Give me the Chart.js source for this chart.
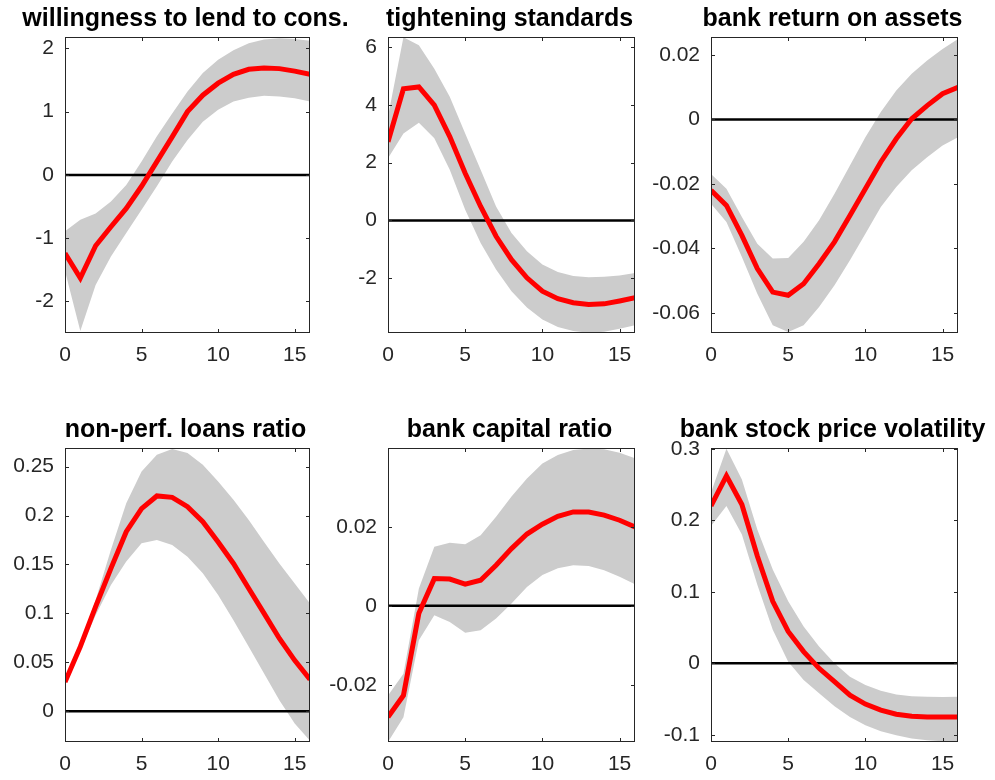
<!DOCTYPE html>
<html>
<head>
<meta charset="utf-8">
<script src="https://cdn.jsdelivr.net/npm/chart.js@4.4.1/dist/chart.umd.min.js"></script>
<style>
  html, body { margin: 0; padding: 0; background: #fff; }
  #wrap { position: relative; width: 995px; height: 780px; overflow: hidden; }
  #wrap canvas { position: absolute; left: 0; top: 0; }
</style>
</head>
<body>
<div id="wrap"></div>
<script>
// Horizon (quarters after the shock)
const horizon = [0, 1, 2, 3, 4, 5, 6, 7, 8, 9, 10, 11, 12, 13, 14, 15, 16];
const xTicks = [0, 5, 10, 15];

// Willingness to lend to consumers
const lendMedian = [-1.24, -1.63, -1.12, -0.82, -0.53, -0.18, 0.21, 0.60, 1.00, 1.26, 1.45, 1.59, 1.67, 1.69, 1.68, 1.64, 1.59];
const lendUpper  = [-0.89, -0.71, -0.61, -0.42, -0.16, 0.21, 0.61, 0.97, 1.32, 1.61, 1.82, 1.97, 2.08, 2.14, 2.16, 2.15, 2.12];
const lendLower  = [-1.52, -2.47, -1.74, -1.29, -0.92, -0.55, -0.18, 0.21, 0.55, 0.84, 1.03, 1.16, 1.22, 1.25, 1.24, 1.21, 1.16];
const lendTicks  = [-2, -1, 0, 1, 2];

// Tightening standards
const tightMedian = [2.72, 4.56, 4.62, 3.99, 2.90, 1.63, 0.48, -0.55, -1.36, -1.99, -2.45, -2.71, -2.85, -2.91, -2.89, -2.79, -2.68];
const tightUpper  = [3.60, 6.34, 6.06, 5.25, 4.28, 3.01, 1.75, 0.48, -0.44, -1.07, -1.53, -1.79, -1.93, -1.97, -1.95, -1.91, -1.82];
const tightLower  = [2.15, 3.01, 3.38, 2.84, 1.75, 0.37, -0.78, -1.70, -2.45, -3.02, -3.43, -3.69, -3.83, -3.89, -3.86, -3.75, -3.63];
const tightTicks  = [-2, 0, 2, 4, 6];

// Bank return on assets
const roaMedian = [-0.0220, -0.0267, -0.0360, -0.0463, -0.0536, -0.0546, -0.0510, -0.0448, -0.0380, -0.0298, -0.0215, -0.0132, -0.0060, 0.0002, 0.0043, 0.0080, 0.0100];
const roaUpper  = [-0.0169, -0.0215, -0.0303, -0.0386, -0.0432, -0.0430, -0.0380, -0.0313, -0.0231, -0.0143, -0.0055, 0.0023, 0.0090, 0.0142, 0.0183, 0.0219, 0.0250];
const roaLower  = [-0.0262, -0.0318, -0.0427, -0.0541, -0.0639, -0.0660, -0.0639, -0.0582, -0.0515, -0.0437, -0.0355, -0.0272, -0.0210, -0.0158, -0.0117, -0.0081, -0.0055];
const roaTicks  = [-0.06, -0.04, -0.02, 0, 0.02];

// Non-performing loans ratio
const nplMedian = [0.030, 0.066, 0.107, 0.146, 0.1835, 0.207, 0.220, 0.2186, 0.209, 0.1937, 0.173, 0.151, 0.1255, 0.100, 0.0744, 0.052, 0.0324];
const nplUpper  = [0.031, 0.068, 0.1136, 0.165, 0.2125, 0.245, 0.262, 0.268, 0.264, 0.252, 0.2347, 0.216, 0.1954, 0.173, 0.151, 0.1306, 0.110];
const nplLower  = [0.029, 0.0624, 0.098, 0.129, 0.153, 0.1716, 0.175, 0.170, 0.158, 0.141, 0.1187, 0.093, 0.0658, 0.0385, 0.0113, -0.0126, -0.030];
const nplTicks  = [0, 0.05, 0.1, 0.15, 0.2, 0.25];

// Bank capital ratio
const capMedian = [-0.0282, -0.0227, -0.0019, 0.0069, 0.0068, 0.0055, 0.0065, 0.0103, 0.0145, 0.0182, 0.0207, 0.0227, 0.0238, 0.0238, 0.0230, 0.0217, 0.0200];
const capUpper  = [-0.0227, -0.0172, 0.0044, 0.0150, 0.0160, 0.0156, 0.0179, 0.0226, 0.0277, 0.0323, 0.0361, 0.0382, 0.0395, 0.0399, 0.0397, 0.0388, 0.0374];
const capLower  = [-0.0345, -0.0282, -0.0087, -0.0024, -0.0041, -0.0068, -0.0062, -0.0032, 0.0006, 0.0048, 0.0078, 0.0095, 0.0103, 0.0101, 0.0090, 0.0074, 0.0055];
const capTicks  = [-0.02, 0, 0.02];

// Bank stock price volatility
const volMedian = [0.220, 0.262, 0.222, 0.150, 0.0866, 0.0445, 0.0164, -0.0070, -0.0257, -0.0445, -0.0570, -0.0655, -0.0711, -0.0740, -0.0749, -0.0752, -0.0749];
const volUpper  = [0.2387, 0.300, 0.257, 0.187, 0.131, 0.0866, 0.0515, 0.0234, 0.000, -0.0187, -0.0304, -0.0384, -0.0435, -0.0459, -0.0468, -0.0470, -0.0468];
const volLower  = [0.192, 0.220, 0.180, 0.110, 0.0468, 0.0023, -0.0234, -0.042, -0.060, -0.0749, -0.0866, -0.095, -0.1006, -0.105, -0.1076, -0.109, -0.110];
const volTicks  = [-0.1, 0, 0.1, 0.2, 0.3];

// Panel set-up: titles, series and axis limits
const panels = [
  { title: 'willingness to lend to cons.', median: lendMedian, upper: lendUpper, lower: lendLower, ticks: lendTicks, yMin: -2.5, yMax: 2.18, box: [65, 310, 37, 333] },
  { title: 'tightening standards', median: tightMedian, upper: tightUpper, lower: tightLower, ticks: tightTicks, yMin: -3.9, yMax: 6.35, box: [388, 635, 37, 333] },
  { title: 'bank return on assets', median: roaMedian, upper: roaUpper, lower: roaLower, ticks: roaTicks, yMin: -0.0663, yMax: 0.0256, box: [711, 958, 37, 333] },
  { title: 'non-perf. loans ratio', median: nplMedian, upper: nplUpper, lower: nplLower, ticks: nplTicks, yMin: -0.0314, yMax: 0.269, box: [65, 310, 448, 742] },
  { title: 'bank capital ratio', median: capMedian, upper: capUpper, lower: capLower, ticks: capTicks, yMin: -0.0345, yMax: 0.040, box: [388, 635, 448, 742] },
  { title: 'bank stock price volatility', median: volMedian, upper: volUpper, lower: volLower, ticks: volTicks, yMin: -0.110, yMax: 0.301, box: [711, 958, 448, 742] }
];

const W = 995, H = 780;
const Y_AXIS_W = 60, X_AXIS_H = 35;
const AXIS_COLOR = '#262626';
const TICK_FONT = { family: '"Liberation Sans", Arial, sans-serif', size: 21 };

// Box around the axes with inward tick marks on all four sides
const framePlugin = {
  id: 'axesFrame',
  afterDraw(chart) {
    const { ctx, chartArea: a, scales } = chart;
    const tl = 4;
    ctx.save();
    ctx.strokeStyle = AXIS_COLOR;
    ctx.lineWidth = 1;
    ctx.strokeRect(Math.round(a.left) + 0.5, Math.round(a.top) + 0.5, Math.round(a.width) - 1, Math.round(a.height) - 1);
    ctx.beginPath();
    scales.x.ticks.forEach(t => {
      const px = Math.round(scales.x.getPixelForValue(t.value)) + 0.5;
      ctx.moveTo(px, a.bottom); ctx.lineTo(px, a.bottom - tl);
      ctx.moveTo(px, a.top); ctx.lineTo(px, a.top + tl);
    });
    scales.y.ticks.forEach(t => {
      const py = Math.round(scales.y.getPixelForValue(t.value)) + 0.5;
      ctx.moveTo(a.left, py); ctx.lineTo(a.left + tl, py);
      ctx.moveTo(a.right, py); ctx.lineTo(a.right - tl, py);
    });
    ctx.stroke();
    ctx.restore();
  }
};

// Bold panel title centred above the axes
const panelTitlePlugin = {
  id: 'panelTitle',
  afterDraw(chart, args, opts) {
    const { ctx, chartArea: a } = chart;
    ctx.save();
    ctx.font = 'bold 25px "Liberation Sans", Arial, sans-serif';
    ctx.fillStyle = '#000';
    ctx.textAlign = 'center';
    ctx.textBaseline = 'alphabetic';
    ctx.fillText(opts.text, (a.left + a.right) / 2 - 2, a.top - 11);
    ctx.restore();
  }
};

const wrap = document.getElementById('wrap');
const pts = arr => horizon.map((h, i) => ({ x: h, y: arr[i] }));

panels.forEach(p => {
  const canvas = document.createElement('canvas');
  canvas.width = W; canvas.height = H;
  wrap.appendChild(canvas);
  const [l, r, t, b] = p.box;
  new Chart(canvas, {
    type: 'line',
    data: {
      datasets: [
        { data: pts(p.median), borderColor: '#ff0000', borderWidth: 5, pointRadius: 0, tension: 0, fill: false },
        { data: [{ x: horizon[0], y: 0 }, { x: horizon[horizon.length - 1], y: 0 }], borderColor: '#000000', borderWidth: 2.5, pointRadius: 0, fill: false },
        { data: pts(p.upper), borderColor: 'rgba(0,0,0,0)', borderWidth: 0, pointRadius: 0, tension: 0, backgroundColor: '#cccccc', fill: 3 },
        { data: pts(p.lower), borderColor: 'rgba(0,0,0,0)', borderWidth: 0, pointRadius: 0, tension: 0, fill: false }
      ]
    },
    options: {
      responsive: false,
      animation: false,
      devicePixelRatio: 1,
      events: [],
      layout: { padding: { left: l - Y_AXIS_W, right: W - r, top: t, bottom: H - b - X_AXIS_H } },
      plugins: {
        legend: { display: false },
        tooltip: { enabled: false },
        panelTitle: { text: p.title }
      },
      scales: {
        x: {
          type: 'linear', min: 0, max: 16,
          grid: { display: false, drawTicks: false },
          border: { display: false },
          afterBuildTicks: s => { s.ticks = xTicks.map(v => ({ value: v })); },
          afterFit: s => { s.height = X_AXIS_H; },
          ticks: { color: AXIS_COLOR, font: TICK_FONT, padding: 10, maxRotation: 0, callback: v => String(v) }
        },
        y: {
          type: 'linear', min: p.yMin, max: p.yMax,
          grid: { display: false, drawTicks: false },
          border: { display: false },
          afterBuildTicks: s => { s.ticks = p.ticks.map(v => ({ value: v })); },
          afterFit: s => { s.width = Y_AXIS_W; },
          ticks: { color: AXIS_COLOR, font: TICK_FONT, padding: 11, callback: v => String(v) }
        }
      }
    },
    plugins: [framePlugin, panelTitlePlugin]
  });
});
</script>
</body>
</html>
